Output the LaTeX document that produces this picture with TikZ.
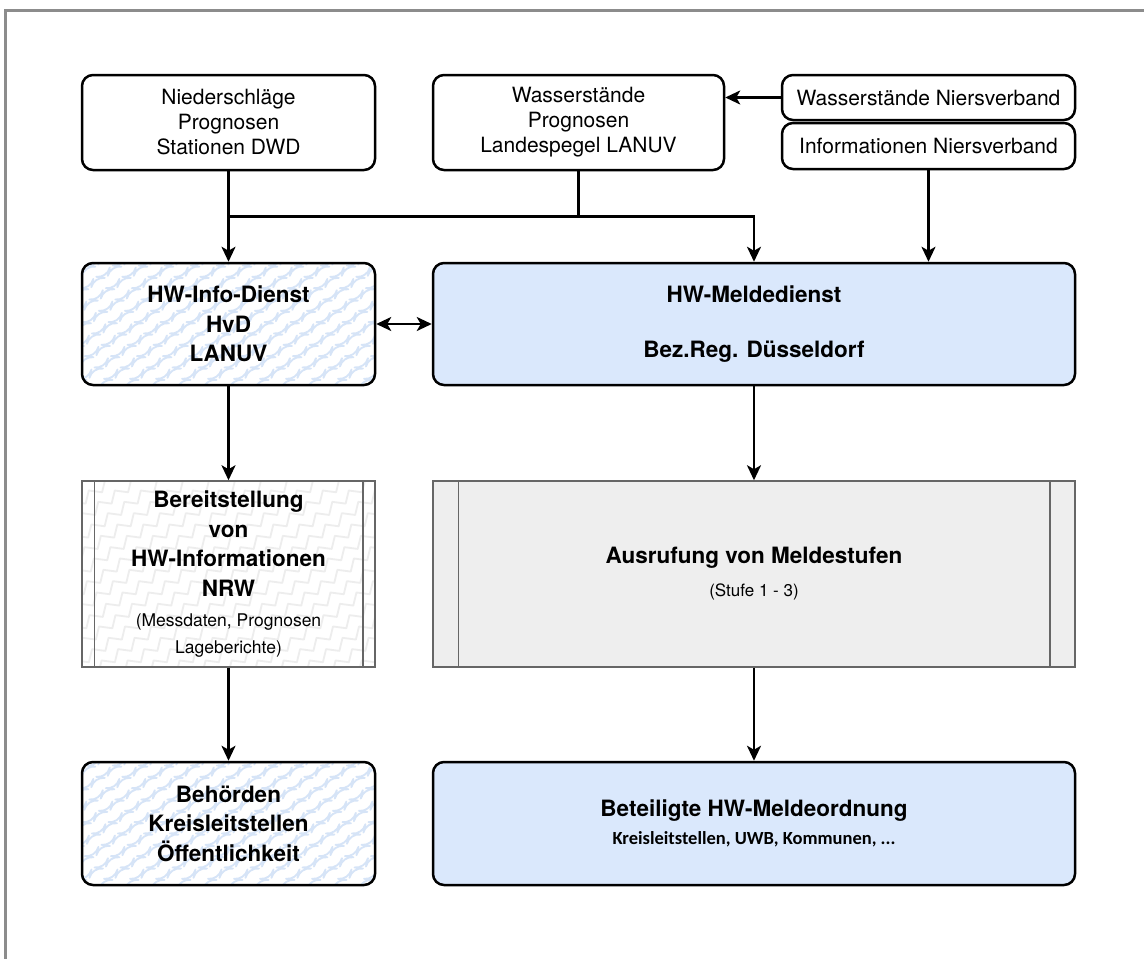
\documentclass[tikz,border=0pt]{standalone}
\usepackage{fontspec}
\setmainfont{TeX Gyre Heros}
\newfontfamily\carl{Carlito}
\usetikzlibrary{arrows.meta,decorations.pathmorphing,calc}
\definecolor{bluefill}{HTML}{DAE8FC}
\definecolor{zigblue}{HTML}{D6E4F7}
\definecolor{ziggray}{HTML}{EDEDED}
\definecolor{procfill}{HTML}{EEEEEE}
\definecolor{procline}{HTML}{666666}
\definecolor{framec}{HTML}{8C8C8C}
\newcommand\smalltxt{\mdseries\fontsize{17.5}{26}\selectfont}
\tikzset{
  base/.style={align=center, inner sep=0pt, text=black},
  srcbox/.style={base, draw=black, line width=2.5pt, rounded corners=11pt, fill=white,
    font=\fontsize{21}{25}\selectfont},
  zig/.style={path picture={
    \foreach \k in {-320,-294,...,320}{
      \draw[#1, line width=1.8pt, line join=round, decorate,
        decoration={zigzag,segment length=20pt,amplitude=4.5pt}]
        ([xshift=\k pt]path picture bounding box.south west) -- ++(320pt,220pt);}}},
  leftbox/.style={base, draw=black, line width=2.5pt, rounded corners=11pt, fill=white,
    zig=zigblue, font=\bfseries\fontsize{22.5}{29.5}\selectfont},
  bluebox/.style={base, draw=black, line width=2.5pt, rounded corners=11pt, fill=bluefill,
    font=\bfseries\fontsize{22.5}{29.5}\selectfont},
  procbox/.style={base, draw=procline, line width=1.5pt, font=\bfseries\fontsize{22.5}{29.5}\selectfont},
  arr/.tip={Stealth[length=15pt,width=14pt,inset=4pt]},
  conn/.style={line width=2.5pt, -arr},
  plain/.style={line width=2.5pt},
  dconn/.style={line width=2.5pt, arr-arr},
}
\begin{document}
\begin{tikzpicture}[x=1pt,y=-1pt]
\useasboundingbox (0,0) rectangle (1144,959);
\draw[framec, line width=3pt] (5,10) rectangle (1160,975);

% top row
\node[srcbox, minimum width=293pt, minimum height=95pt] (nd) at (228.5,122.5)
  {Niederschläge\\Prognosen\\Stationen DWD};
\node[srcbox, minimum width=291pt, minimum height=95pt] (wl) at (578.5,122.5)
  {Wasserstände\\Prognosen\\Landespegel LANUV};
\node[srcbox, minimum width=293pt, minimum height=45pt] (wn) at (928.5,97.5)
  {Wasserstände Niersverband};
\node[srcbox, minimum width=293pt, minimum height=46pt] (in) at (928.5,146)
  {Informationen Niersverband};

% second row
\node[leftbox, minimum width=293pt, minimum height=122pt] (info) at (228.5,324)
  {HW-Info-Dienst\\HvD\\LANUV};
\node[bluebox, minimum width=642pt, minimum height=122pt] (melde) at (754,324)
  {HW-Meldedienst\\[25pt]Bez.Reg. Düsseldorf};

% third row
\node[procbox, fill=white, zig=ziggray, minimum width=293pt, minimum height=186pt] (bereit) at (228.5,574)
  {Bereitstellung\\von\\HW-Informationen\\NRW\\[1pt]\smalltxt (Messdaten, Prognosen\\[-3pt]\smalltxt Lageberichte)};
\draw[procline, line width=1.5pt] ([xshift=13pt]bereit.north west) -- ([xshift=13pt]bereit.south west);
\draw[procline, line width=1.5pt] ([xshift=-13pt]bereit.north east) -- ([xshift=-13pt]bereit.south east);

\node[procbox, fill=procfill, minimum width=642pt, minimum height=186pt] (ausruf) at (754,574)
  {Ausrufung von Meldestufen\\[3.5pt]\mdseries\fontsize{17}{22}\selectfont (Stufe 1 - 3)};
\draw[procline, line width=1.5pt] ([xshift=26pt]ausruf.north west) -- ([xshift=26pt]ausruf.south west);
\draw[procline, line width=1.5pt] ([xshift=-26pt]ausruf.north east) -- ([xshift=-26pt]ausruf.south east);

% fourth row
\node[leftbox, minimum width=293pt, minimum height=123pt] (beh) at (228.5,823.5)
  {Behörden\\Kreisleitstellen\\Öffentlichkeit};
\node[bluebox, minimum width=642pt, minimum height=123pt] (bet) at (754,823.5)
  {Beteiligte HW-Meldeordnung\\[-2pt]\carl\bfseries\fontsize{18.5}{24}\selectfont Kreisleitstellen, UWB, Kommunen, ...};

% connectors
\path (nd.south) ++(0,45) coordinate (jl);
\draw[conn] (nd.south) -- (info.north);
\draw[plain] (wl.south) -- (wl.south |- jl);
\draw[conn] (jl) -| (melde.north);
\draw[conn] (in.south) -- (in.south |- melde.north);
\draw[conn] (wn.west) -- (wl.east |- wn.west);
\draw[dconn] (info.east) -- (melde.west);
\draw[conn] (info.south) -- (bereit.north);
\draw[conn] (melde.south) -- (ausruf.north);
\draw[conn] (bereit.south) -- (beh.north);
\draw[conn] (ausruf.south) -- (bet.north);
\end{tikzpicture}
\end{document}
